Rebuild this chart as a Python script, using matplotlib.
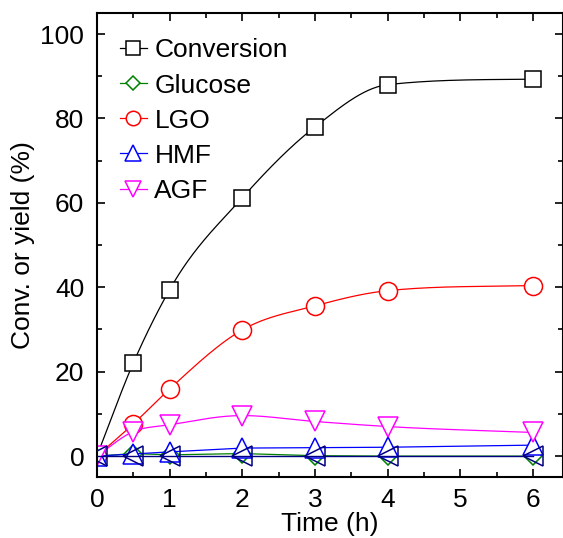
import numpy as np
import matplotlib.pyplot as plt
from matplotlib.ticker import MultipleLocator

plt.rcParams['font.family'] = ['Liberation Sans', 'DejaVu Sans']
plt.rcParams['font.size'] = 19

time = [0, 0.5, 1, 2, 3, 4, 6]
conversion = [0, 22.0, 39.4, 61.2, 78.0, 88.0, 89.3]
glucose = [0, 0.6, 0.3, 0.6, 0.1, 0.0, 0.0]
lgo = [0, 7.6, 15.9, 29.9, 35.6, 39.2, 40.4]
hmf = [0, 0.5, 1.0, 1.9, 2.0, 2.1, 2.6]
agf = [0, 5.8, 7.4, 9.6, 8.2, 7.0, 5.6]
other = [0, 0, 0, 0, 0, 0, 0]


def smooth(x, y, xs):
    # monotone cubic (Fritsch-Carlson) through the points, only for the line
    x = np.asarray(x, float)
    y = np.asarray(y, float)
    n = len(x)
    h = np.diff(x)
    d = np.diff(y) / h
    m = np.zeros(n)
    m[0], m[-1] = d[0], d[-1]
    for k in range(1, n - 1):
        m[k] = (d[k - 1] * h[k] + d[k] * h[k - 1]) / (h[k - 1] + h[k])
        if d[k - 1] * d[k] <= 0:
            m[k] = 0
    for k in range(n - 1):
        if d[k] == 0:
            m[k] = m[k + 1] = 0
            continue
        a, b = m[k] / d[k], m[k + 1] / d[k]
        s = a * a + b * b
        if s > 9:
            t = 3 / np.sqrt(s)
            m[k], m[k + 1] = t * a * d[k], t * b * d[k]
    out = np.empty_like(xs)
    for i, xv in enumerate(xs):
        k = min(np.searchsorted(x, xv, side='right') - 1, n - 2)
        t = (xv - x[k]) / h[k]
        out[i] = (2 * t**3 - 3 * t**2 + 1) * y[k] + (t**3 - 2 * t**2 + t) * h[k] * m[k] \
            + (-2 * t**3 + 3 * t**2) * y[k + 1] + (t**3 - t**2) * h[k] * m[k + 1]
    return out


fig, ax = plt.subplots(figsize=(5.63, 5.38), dpi=100)
fig.subplots_adjust(left=0.172, right=1.0, top=0.976, bottom=0.113)

xs = np.linspace(0, 6, 400)
series = [
    ('Conversion', conversion, 'black', 's', 12),
    ('Glucose', glucose, 'green', 'D', 9),
    ('LGO', lgo, 'red', 'o', 13),
    ('HMF', hmf, 'blue', '^', 14),
    ('AGF', agf, 'magenta', 'v', 14),
]
for name, vals, col, mk, ms in series:
    if name in ('Conversion', 'LGO', 'AGF'):
        ax.plot(xs, smooth(time, vals, xs), color=col, lw=0.9)
    else:
        ax.plot(time, vals, color=col, lw=0.9)
    ax.plot(time, vals, ls='none', marker=mk, ms=ms, mfc='white', mec=col, mew=1.1)
    ax.plot([], [], color=col, lw=0.9, marker=mk, ms=ms * 0.8, mfc='white',
            mec=col, mew=1.1, label=name)

ax.plot(time, other, color='navy', lw=1.0, marker='<', ms=14, mfc='none',
        mec='navy', mew=1.1, zorder=5)

ax.set_xlim(0, 6.41)
ax.set_ylim(-5, 105)
ax.xaxis.set_major_locator(MultipleLocator(1))
ax.xaxis.set_minor_locator(MultipleLocator(0.5))
ax.yaxis.set_major_locator(MultipleLocator(20))
ax.yaxis.set_minor_locator(MultipleLocator(10))
ax.tick_params(which='both', direction='in', top=True, right=True, width=1.2)
ax.tick_params(which='major', length=6)
ax.tick_params(which='minor', length=3.5)
ax.tick_params(axis='x', pad=8)
ax.tick_params(axis='y', pad=9)
for sp in ax.spines.values():
    sp.set_linewidth(1.5)

ax.set_xlabel('Time (h)', labelpad=0)
ax.set_ylabel('Conv. or yield (%)', labelpad=4)

ax.legend(loc='upper left', frameon=False, handlelength=1.0, handletextpad=0.3,
          labelspacing=0.42, borderaxespad=0, borderpad=0,
          bbox_to_anchor=(0.05, 0.945))

fig.savefig('out.png', dpi=100)
